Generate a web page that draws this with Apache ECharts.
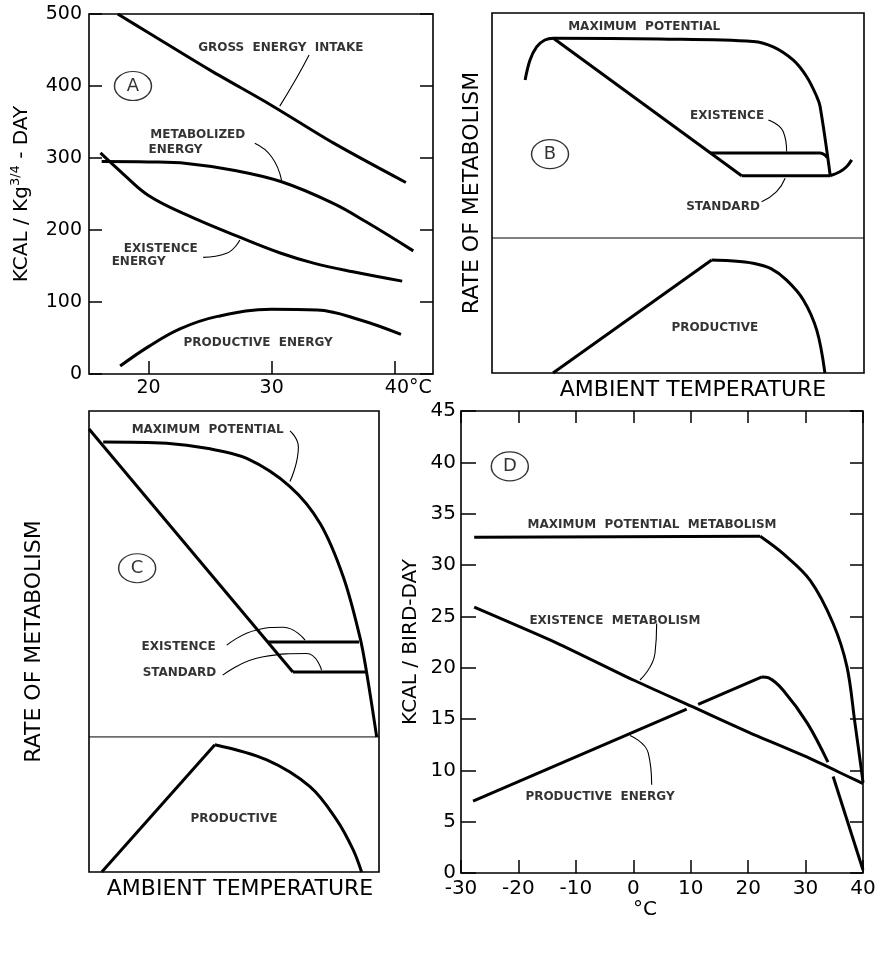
<!DOCTYPE html>
<html><head><meta charset="utf-8">
<script src="https://cdn.jsdelivr.net/npm/echarts@6/dist/echarts.min.js"></script>
<style>html,body{margin:0;padding:0;background:#fff}#c{width:882px;height:978px}</style>
</head><body><div id="c"></div>
<script>
// ---------- Panel A : KCAL/Kg^3/4-DAY vs temperature (°C) ----------
const aTickX = [20, 30, 40];
const aGross = [[17.5,500],[20,474],[25,422],[30,373],[35,321],[40.9,266]];
const aMetab = [[16.2,295],[20,294.5],[23.1,292.5],[26.9,283],[30.8,267],[35,237],[37.7,211],[41.5,171]];
const aExist = [[16.1,307],[18,277],[20,248],[23.1,221],[27.4,190],[30.7,168],[33.4,154],[36.6,142],[40.6,129]];
const aProd  = [[17.7,11],[20,38],[22.6,63],[25.6,80],[30,90],[33.7,89],[37.2,75],[40.5,55]];

// ---------- Panel B : relative rate of metabolism ----------
const bMax      = [[8.9,81.4],[10.2,86.9],[12.0,90.6],[14.2,92.5],[16.5,93.0],[45,92.8],[70.2,92.1],[75.6,90.6],[81.0,86.9],[84.6,82.3],[87.3,76.8],[88.2,74.0],[90.9,55.0]];
const bDiag     = [[16.5,93.0],[67.1,54.8]];
const bStandard = [[67.1,54.8],[90.9,54.8]];
const bRiseEnd  = [[90.9,54.8],[93.5,55.9],[95.3,57.3],[96.7,59.2]];
const bExist    = [[58.8,61.1],[88.2,61.1],[89.4,60.6],[90.1,59.8]];
const bProdUp   = [[16.4,0],[59.05,31.4]];
const bProdDown = [[59.05,31.4],[64,31.2],[70.2,30.5],[75,29],[79.2,25.8],[83.7,20.3],[87.3,11.9],[89.5,0]];
const bZero     = [[0,37.5],[100,37.5]];

// ---------- Panel C : relative rate of metabolism ----------
const cMax      = [[4.9,93.3],[26.8,93.0],[40.6,91.9],[54.4,89.7],[69.3,83.6],[79.7,75.6],[87.7,64.0],[93.4,51.0],[95.7,43.4],[99.2,29.3]];
const cDiag     = [[0,96.1],[70.3,43.4]];
const cExist    = [[61.6,49.9],[93.1,49.9]];
const cStandard = [[70.3,43.4],[95.9,43.4]];
const cProdUp   = [[4.4,0],[43.4,27.6]];
const cProdDown = [[43.4,27.6],[61.3,24.3],[76.2,18.5],[85.4,11.3],[91.1,4.8],[94.0,0]];
const cZero     = [[0,29.3],[100,29.3]];

// ---------- Panel D : KCAL/BIRD-DAY vs °C ----------
const dMaxFlat  = [[-27.7,32.7],[22.1,32.8]];
const dMaxFall  = [[22.1,32.8],[26.1,31.1],[30.8,28.5],[34.8,24.3],[37.2,20.1],[38.6,14.6],[39.8,9.7],[40,8.8]];
const dExist    = [[-27.7,25.9],[-13.3,22.4],[0,18.8],[10.3,16.2],[20.5,13.6],[30.2,11.3],[40,8.7]];
const dProdA    = [[-27.9,7.0],[9.3,15.95]];
const dProdB    = [[11.3,16.43],[22.4,19.1]];
const dProdC    = [[22.4,19.1],[23.6,19.0],[26.1,17.8],[30.3,14.6],[33.9,10.8]];
const dProdD    = [[34.8,9.4],[40,0.3]];

const FONT = 'DejaVu Sans';
const BLACK = '#000';

function L(g, data, w, smooth) {
  return {type:'line', xAxisIndex:g, yAxisIndex:g, data:data, symbol:'none', smooth:smooth||false,
    lineStyle:{color:BLACK, width:w}, silent:true, z:3, animation:false};
}
function T(g, x, y, text, size, weight) {
  return {type:'scatter', xAxisIndex:g, yAxisIndex:g, data:[[x,y]], symbol:'circle', symbolSize:1,
    itemStyle:{color:'rgba(0,0,0,0)'}, silent:true, z:5, animation:false,
    label:{show:true, position:'inside', formatter:text, fontFamily:FONT, fontSize:size||12,
      fontWeight:weight||'bold', color:BLACK}};
}
function C(g, x, y, letter) {
  return {type:'scatter', xAxisIndex:g, yAxisIndex:g, data:[[x,y]], symbol:'circle', symbolSize:[37,29],
    itemStyle:{color:'rgba(0,0,0,0)', borderColor:BLACK, borderWidth:1.3}, silent:true, z:5, animation:false,
    label:{show:true, position:'inside', formatter:letter, fontFamily:FONT, fontSize:18, color:BLACK}};
}

const gridBase = {show:true, borderColor:BLACK, borderWidth:1.6, backgroundColor:'rgba(0,0,0,0)', containLabel:false};
const tickStyle = {color:BLACK, width:1.5};
const hiddenLine = {show:false, onZero:false};
const noAxis = {axisLine:hiddenLine, axisTick:{show:false}, axisLabel:{show:false}, splitLine:{show:false}};
const nameStyle = {fontFamily:FONT, fontSize:22, color:BLACK};

const option = {
  backgroundColor:'#fff',
  animation:false,
  grid:[
    Object.assign({left:89, top:14, width:344, height:360}, gridBase),
    Object.assign({left:492, top:13, width:372, height:360}, gridBase),
    Object.assign({left:89, top:411, width:290, height:461}, gridBase),
    Object.assign({left:461, top:411, width:402, height:462}, gridBase)
  ],
  xAxis:[
    {gridIndex:0, type:'value', min:15.17, max:43.1, axisLine:hiddenLine, splitLine:{show:false},
      axisTick:{inside:true, length:13, customValues:aTickX, lineStyle:tickStyle},
      axisLabel:{customValues:aTickX, margin:5, fontFamily:FONT, fontSize:19, color:BLACK,
        formatter:function(v){ return v===40 ? '{s| }40°C' : String(v); },
        rich:{s:{width:27, fontSize:19}}}},
    Object.assign({gridIndex:1, type:'value', min:0, max:100, name:'AMBIENT TEMPERATURE', nameLocation:'middle', nameGap:6,
      nameTextStyle:Object.assign({padding:[0,0,0,30], verticalAlign:'top'}, nameStyle)}, noAxis),
    Object.assign({gridIndex:2, type:'value', min:0, max:100, name:'AMBIENT TEMPERATURE', nameLocation:'middle', nameGap:6,
      nameTextStyle:Object.assign({padding:[0,0,0,12], verticalAlign:'top'}, nameStyle)}, noAxis),
    {gridIndex:3, type:'value', min:-30, max:40, interval:10, axisLine:hiddenLine, splitLine:{show:false},
      axisTick:{inside:true, length:13, lineStyle:tickStyle},
      axisLabel:{margin:6, fontFamily:FONT, fontSize:20, color:BLACK},
      name:'°C', nameLocation:'middle', nameGap:26,
      nameTextStyle:{fontFamily:FONT, fontSize:20, color:BLACK, padding:[0,34,0,0], verticalAlign:'top'}},
    {gridIndex:3, type:'value', position:'top', min:-30, max:40, interval:10, axisLine:hiddenLine, splitLine:{show:false},
      axisTick:{inside:true, length:12, lineStyle:tickStyle}, axisLabel:{show:false}}
  ],
  yAxis:[
    {gridIndex:0, type:'value', min:0, max:500, interval:100, axisLine:hiddenLine, splitLine:{show:false},
      axisTick:{inside:true, length:13, lineStyle:tickStyle},
      axisLabel:{margin:7, fontFamily:FONT, fontSize:19, color:BLACK},
      name:'KCAL / Kg{s|3/4} - DAY', nameLocation:'middle', nameRotate:90, nameGap:54,
      nameTextStyle:{fontFamily:FONT, fontSize:20, color:BLACK, lineHeight:26,
        rich:{s:{fontFamily:FONT, fontSize:13, color:BLACK, verticalAlign:'top', lineHeight:26}}}},
    Object.assign({gridIndex:1, type:'value', min:0, max:100, name:'RATE OF METABOLISM', nameLocation:'middle', nameRotate:90, nameGap:9,
      nameTextStyle:Object.assign({padding:[0,0,0,0]}, nameStyle)}, noAxis),
    Object.assign({gridIndex:2, type:'value', min:0, max:100, name:'RATE OF METABOLISM', nameLocation:'middle', nameRotate:90, nameGap:44,
      nameTextStyle:Object.assign({padding:[0,0,0,0]}, nameStyle)}, noAxis),
    {gridIndex:3, type:'value', min:0, max:45, interval:5, axisLine:hiddenLine, splitLine:{show:false},
      axisTick:{inside:true, length:15, lineStyle:tickStyle},
      axisLabel:{margin:5, fontFamily:FONT, fontSize:20, color:BLACK},
      name:'KCAL / BIRD-DAY', nameLocation:'middle', nameRotate:90, nameGap:40,
      nameTextStyle:{fontFamily:FONT, fontSize:20, color:BLACK}},
    {gridIndex:0, type:'value', position:'right', min:0, max:500, interval:100, axisLine:hiddenLine, splitLine:{show:false},
      axisTick:{inside:true, length:13, lineStyle:tickStyle}, axisLabel:{show:false}},
    {gridIndex:3, type:'value', position:'right', min:0, max:45, interval:5, axisLine:hiddenLine, splitLine:{show:false},
      axisTick:{inside:true, length:13, lineStyle:tickStyle}, axisLabel:{show:false}}
  ],
  series:[
    // Panel A
    L(0, aGross, 3, 0.3), L(0, aMetab, 3, 0.4), L(0, aExist, 3, 0.4), L(0, aProd, 3, 0.4),
    L(0, [[33.04,443],[32.01,410.7],[30.66,372]], 1.1, true),
    L(0, [[28.63,320.4],[29.99,301.8],[30.8,269.4]], 1.1, true),
    L(0, [[24.44,162],[26.34,167.6],[27.42,186]], 1.1, true),
    T(0, 30.74, 452.8, 'GROSS  ENERGY  INTAKE'),
    T(0, 24.0, 332, 'METABOLIZED'), T(0, 22.2, 311, 'ENERGY'),
    T(0, 21.0, 173.6, 'EXISTENCE'), T(0, 19.2, 155.6, 'ENERGY'),
    T(0, 28.9, 43, 'PRODUCTIVE  ENERGY'),
    C(0, 18.74, 400, 'A'),
    // Panel B
    L(1, bZero, 1, false), L(1, bMax, 3, 0.35), L(1, bDiag, 3, false), L(1, bStandard, 3, false),
    L(1, bRiseEnd, 3, 0.4), L(1, bExist, 3, 0.3), L(1, bProdUp, 3, false), L(1, bProdDown, 3, 0.35),
    L(1, [[74.3,70.3],[78.3,67.0],[79.2,61.5]], 1.1, true),
    L(1, [[72.5,47.6],[76.5,50.4],[78.8,54.1]], 1.1, true),
    T(1, 40.9, 96.1, 'MAXIMUM  POTENTIAL'),
    T(1, 63.2, 71.4, 'EXISTENCE'),
    T(1, 62.1, 46.1, 'STANDARD'),
    T(1, 59.9, 12.5, 'PRODUCTIVE'),
    C(1, 15.6, 60.8, 'B'),
    // Panel C
    L(2, cZero, 1, false), L(2, cMax, 3, 0.35), L(2, cDiag, 3, false), L(2, cExist, 3, false),
    L(2, cStandard, 3, false), L(2, cProdUp, 3, false), L(2, cProdDown, 3, 0.35),
    L(2, [[69.3,95.7],[72.2,92.2],[69.3,84.7]], 1.1, true),
    L(2, [[47.5,49.2],[57.8,52.5],[67.0,53.1],[74.5,50.3]], 1.1, true),
    L(2, [[46.1,42.7],[60.1,46.7],[75.1,47.4],[80.2,43.8]], 1.1, true),
    T(2, 40.9, 95.9, 'MAXIMUM  POTENTIAL'),
    T(2, 30.9, 48.8, 'EXISTENCE'),
    T(2, 31.2, 43.2, 'STANDARD'),
    T(2, 50, 11.5, 'PRODUCTIVE'),
    C(2, 16.6, 65.9, 'C'),
    // Panel D
    L(3, dMaxFlat, 3, false), L(3, dMaxFall, 3, 0.35), L(3, dExist, 3, 0.2),
    L(3, dProdA, 3, false), L(3, dProdB, 3, false), L(3, dProdC, 3, 0.35), L(3, dProdD, 3, false),
    L(3, [[4.07,24.3],[3.78,21.4],[1.17,18.8]], 1.1, true),
    L(3, [[3.2,8.6],[2.6,11.7],[-0.57,13.4]], 1.1, true),
    T(3, 3.26, 33.9, 'MAXIMUM  POTENTIAL  METABOLISM'),
    T(3, -3.2, 24.6, 'EXISTENCE  METABOLISM'),
    T(3, -5.8, 7.4, 'PRODUCTIVE  ENERGY'),
    C(3, -21.5, 39.6, 'D')
  ]
};
const chart = echarts.init(document.getElementById('c'), null, {renderer:'canvas'});
chart.setOption(option);
</script></body></html>
